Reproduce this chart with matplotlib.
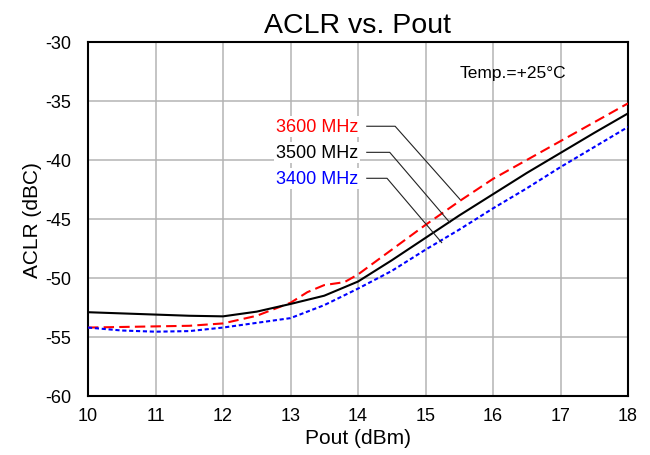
import matplotlib.pyplot as plt

plt.rcParams['font.family'] = ['Liberation Sans', 'DejaVu Sans']
plt.rcParams['axes.unicode_minus'] = False

# Pout (dBm) sample points
pout = [10, 10.5, 11, 11.5, 12, 12.5, 13, 13.5, 14, 14.5, 15, 15.5, 16, 16.5, 17, 17.5, 18]
pout_3600 = [10, 10.5, 11, 11.5, 12, 12.5, 13, 13.25, 13.5, 13.8, 14, 14.5, 15, 15.5, 16, 16.5, 17, 17.5, 18]

# ACLR (dBc)
aclr_3400 = [-54.2, -54.45, -54.55, -54.5, -54.2, -53.8, -53.4, -52.3, -50.9, -49.4,
             -47.6, -45.9, -44.1, -42.4, -40.6, -38.9, -37.2]
aclr_3500 = [-52.9, -53.0, -53.1, -53.2, -53.25, -52.85, -52.2, -51.5, -50.3, -48.5,
             -46.6, -44.7, -42.9, -41.1, -39.4, -37.7, -36.05]
aclr_3600 = [-54.2, -54.15, -54.1, -54.05, -53.85, -53.2, -52.1, -51.2, -50.6, -50.35,
             -49.7, -47.6, -45.5, -43.5, -41.6, -40.0, -38.4, -36.8, -35.2]

labels = ['3600 MHz', '3500 MHz', '3400 MHz']
colors = ['#ff0000', '#000000', '#0000ff']

fig = plt.figure(figsize=(6.5, 4.56), dpi=100)
ax = fig.add_axes([88/650, 1 - 397/456, 540/650, 354/456])

ax.plot(pout_3600, aclr_3600, color=colors[0], lw=1.5, dashes=(5, 2.5), zorder=3)
ax.plot(pout, aclr_3500, color=colors[1], lw=1.5, zorder=3)
ax.plot(pout, aclr_3400, color=colors[2], lw=1.5, dashes=(2, 1.3), zorder=3)

ax.set_xlim(10, 18)
ax.set_ylim(-60, -30)
ax.set_xticks(range(10, 19))
ax.set_yticks(range(-60, -29, 5))
ax.grid(True, color='#b4b4b4', lw=1.1)
ax.set_axisbelow(True)
ax.tick_params(length=0, labelsize=13)
ax.tick_params(axis='x', pad=8)
ax.tick_params(axis='y', pad=12)
for s in ax.spines.values():
    s.set_linewidth(1.5)

ax.set_xlabel('Pout (dBm)', fontsize=15, labelpad=3)
ax.set_ylabel('ACLR (dBC)', fontsize=15, labelpad=2)
ax.set_title('ACLR vs. Pout', fontsize=20.5, pad=7)

ax.text(16.3, -32.6, 'Temp.=+25°C', fontsize=12.5, ha='center', va='center')

# callout labels with leader lines
label_y = [-37.14, -39.35, -41.55]
knee_x = [14.55, 14.47, 14.43]
end_pts = [(15.51, -43.33), (15.36, -45.3), (15.24, -47.0)]
for lab, c, ly, kx, (ex, ey) in zip(labels, colors, label_y, knee_x, end_pts):
    ax.text(14.0, ly, lab, color=c, fontsize=13, ha='right', va='center',
            bbox=dict(facecolor='white', edgecolor='none', pad=1.5), zorder=4)
    ax.plot([14.13, kx, ex], [ly, ly, ey], color='#222222', lw=0.8, zorder=4)

fig.savefig('out.png', dpi=100)
